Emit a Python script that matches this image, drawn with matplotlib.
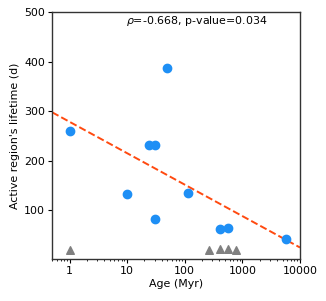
import numpy as np
import matplotlib
matplotlib.use("Agg")
import matplotlib.pyplot as plt
from matplotlib.ticker import FuncFormatter

# measured active-region lifetimes
age_myr = [1, 24, 30, 50, 10, 30, 112, 414, 571, 5750]
lifetime_d = [260, 233, 233, 387, 133, 83, 136, 62, 64, 43]

# stars with only upper limits / no lifetime
age_lim = [1, 259, 414, 571, 765]
lifetime_lim = [20, 20, 22, 22, 21]

stats_text = r"$\rho$=-0.668, p-value=0.034"

plt.rcParams["font.size"] = 7.9

fig = plt.figure(figsize=(3.26, 3.01), dpi=100)
ax = fig.add_axes([0.16, 0.1395, 0.76, 0.82])

ax.scatter(age_myr, lifetime_d, s=36, color="#1e8ff5", zorder=3)
ax.scatter(age_lim, lifetime_lim, s=30, marker="^", color="gray", zorder=3)

# linear fit of lifetime vs log10(age)
b, a = np.polyfit(np.log10(age_myr), lifetime_d, 1)
xs = np.logspace(np.log10(0.5), 4, 100)
ax.plot(xs, a + b * np.log10(xs), "--", color="#ff4a10", linewidth=1.4, zorder=2)

ax.set_xscale("log")
ax.set_xlim(0.5, 10000)
ax.set_ylim(2, 500)
ax.xaxis.set_major_formatter(FuncFormatter(lambda v, p: f"{v:g}"))
ax.set_yticks([100, 200, 300, 400, 500])
ax.set_xlabel("Age (Myr)", labelpad=2)
ax.set_ylabel("Active region's lifetime (d)", labelpad=3)
ax.text(0.585, 0.963, stats_text, transform=ax.transAxes, ha="center", va="center")
ax.tick_params(length=3, pad=2)
ax.tick_params(which="minor", length=1.5)
for s in ax.spines.values():
    s.set_linewidth(1.0)
    s.set_color("#333333")

fig.savefig("out.png", dpi=100)
